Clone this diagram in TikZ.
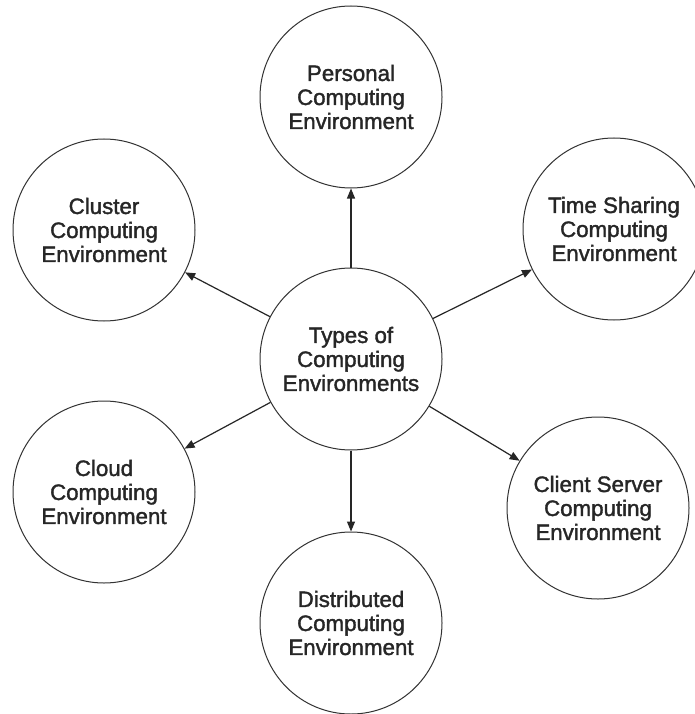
\documentclass[tikz,border=0pt]{standalone}
\usepackage{fontspec}
\setmainfont{Liberation Sans}
\newfontfamily\heavyfont[FakeBold=1.6]{Liberation Sans}
\usetikzlibrary{arrows.meta}
\begin{document}
\begin{tikzpicture}[x=1pt,y=-1pt,
  envcircle/.style={circle,draw=black!80,line width=1pt,minimum size=182pt,inner sep=0pt,
    align=center,font=\heavyfont\fontsize{22.3}{24}\selectfont,text=black!85},
  conn/.style={draw=black!85,line width=1.2pt,-{Triangle[length=10pt,width=8pt]}}]
\useasboundingbox[fill=white] (0,0) rectangle (694,714);
\node[envcircle] (c) at (351,359) {Types of\\Computing\\Environments};
\node[envcircle] (p) at (351,97) {Personal\\Computing\\Environment};
\node[envcircle] (t) at (614,229) {Time Sharing\\Computing\\Environment};
\node[envcircle] (k) at (104,230) {Cluster\\Computing\\Environment};
\node[envcircle] (l) at (104,492) {Cloud\\Computing\\Environment};
\node[envcircle] (s) at (598,508) {Client Server\\Computing\\Environment};
\node[envcircle] (d) at (351,623) {Distributed\\Computing\\Environment};
\draw[conn] (c) -- (p);
\draw[conn] (c) -- (t);
\draw[conn] (c) -- (k);
\draw[conn] (c) -- (l);
\draw[conn] (c) -- (s);
\draw[conn] (c) -- (d);
\end{tikzpicture}
\end{document}
